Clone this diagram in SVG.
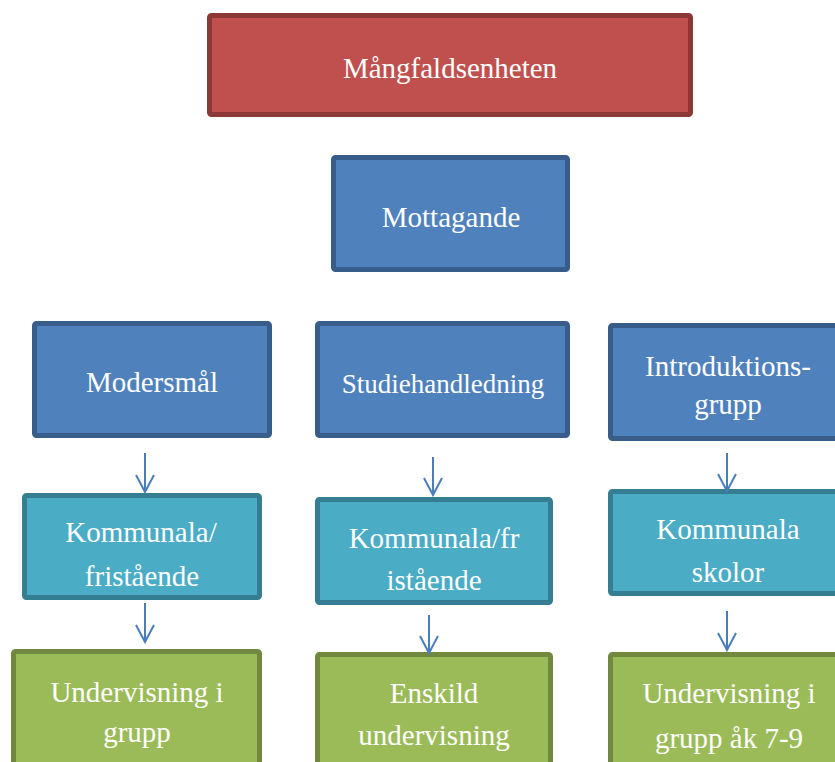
<svg xmlns="http://www.w3.org/2000/svg" width="835" height="762" viewBox="0 0 835 762">
<style>
  .box { stroke-width: 5; }
  .red { fill: #C0504D; stroke: #8C3836; }
  .blue { fill: #4F81BD; stroke: #385D8A; }
  .teal { fill: #4BACC6; stroke: #357D91; }
  .green { fill: #9BBB59; stroke: #71893F; }
  text { font-family: "Liberation Serif", "Times New Roman", serif; font-size: 29px; fill: #FFFFFF; text-anchor: middle; }
  .conn { stroke: #4A7EBB; stroke-width: 2; fill: none; }
</style>
<defs>
  <marker id="arr" viewBox="0 0 20 20" markerWidth="20" markerHeight="20" refX="18" refY="10" orient="auto" markerUnits="userSpaceOnUse">
    <path d="M1,1 L18,10 L1,19" fill="none" stroke="#4A7EBB" stroke-width="2"/>
  </marker>
</defs>
<rect width="835" height="762" fill="#FFFFFF"/>

<g id="n-mangfald">
  <rect class="box red" x="209.5" y="15.5" width="481" height="99" rx="2"/>
  <text x="450" y="78">Mångfaldsenheten</text>
</g>
<g id="n-mottagande">
  <rect class="box blue" x="333.5" y="157.5" width="234" height="112" rx="2"/>
  <text x="451" y="227">Mottagande</text>
</g>
<g id="n-modersmal">
  <rect class="box blue" x="34.5" y="323.5" width="235" height="112" rx="2"/>
  <text x="152" y="392">Modersmål</text>
</g>
<g id="n-studie">
  <rect class="box blue" x="317.5" y="323.5" width="250" height="112" rx="2"/>
  <text x="443" y="393" style="font-size:27px">Studiehandledning</text>
</g>
<g id="n-intro">
  <rect class="box blue" x="610.5" y="325.5" width="240" height="113" rx="2"/>
  <text x="728" y="376">Introduktions-</text>
  <text x="728" y="414">grupp</text>
</g>
<g id="n-komm1">
  <rect class="box teal" x="24.5" y="495.5" width="235" height="102" rx="2"/>
  <text x="141" y="542">Kommunala/</text>
  <text x="142" y="586">fristående</text>
</g>
<g id="n-komm2">
  <rect class="box teal" x="317.5" y="499.5" width="233" height="103" rx="2"/>
  <text x="434" y="548">Kommunala/fr</text>
  <text x="434" y="590">istående</text>
</g>
<g id="n-komm3">
  <rect class="box teal" x="610.5" y="491.5" width="240" height="102" rx="2"/>
  <text x="728" y="539">Kommunala</text>
  <text x="728" y="582">skolor</text>
</g>
<g id="n-und1">
  <rect class="box green" x="13.5" y="651.5" width="246" height="130" rx="2"/>
  <text x="137" y="702">Undervisning i</text>
  <text x="137" y="742">grupp</text>
</g>
<g id="n-ensk">
  <rect class="box green" x="317.5" y="654.5" width="233" height="130" rx="2"/>
  <text x="434" y="703">Enskild</text>
  <text x="434" y="745">undervisning</text>
</g>
<g id="n-und3">
  <rect class="box green" x="610.5" y="654.5" width="240" height="130" rx="2"/>
  <text x="729" y="703">Undervisning i</text>
  <text x="729" y="748">grupp åk 7-9</text>
</g>

<g id="connectors">
  <line class="conn" x1="145" y1="453" x2="145" y2="492" marker-end="url(#arr)"/>
  <line class="conn" x1="433" y1="457" x2="433" y2="495" marker-end="url(#arr)"/>
  <line class="conn" x1="727" y1="453" x2="727" y2="491" marker-end="url(#arr)"/>
  <line class="conn" x1="145" y1="603" x2="145" y2="642" marker-end="url(#arr)"/>
  <line class="conn" x1="429" y1="615" x2="429" y2="653" marker-end="url(#arr)"/>
  <line class="conn" x1="727" y1="611" x2="727" y2="650" marker-end="url(#arr)"/>
</g>
</svg>
